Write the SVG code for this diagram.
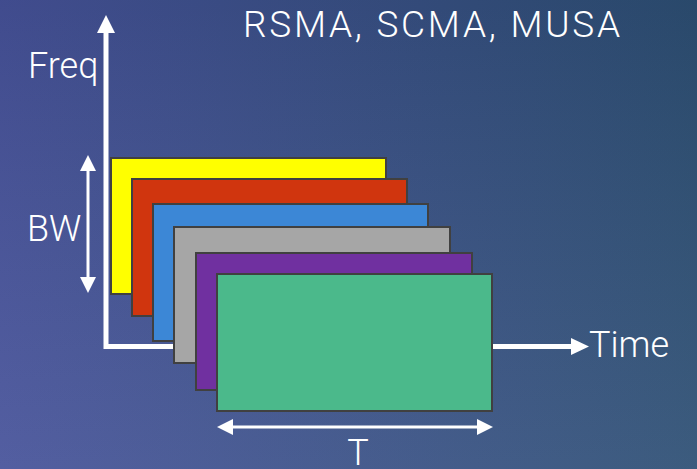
<svg xmlns="http://www.w3.org/2000/svg" width="697" height="469" viewBox="0 0 697 469">
<defs>
<linearGradient id="bg" x1="0" y1="0" x2="1" y2="0">
<stop offset="0" stop-color="#46529a"/>
<stop offset="1" stop-color="#2d4f74"/>
</linearGradient>
<linearGradient id="bgv" x1="0" y1="0" x2="0" y2="1">
<stop offset="0" stop-color="#000000" stop-opacity="0.08"/>
<stop offset="1" stop-color="#ffffff" stop-opacity="0.07"/>
</linearGradient>
<marker id="ahs" viewBox="0 0 16 16" refX="0" refY="8" markerWidth="16" markerHeight="16" markerUnits="userSpaceOnUse" orient="auto-start-reverse">
<path d="M0,0 L16,8 L0,16 Z" fill="#ffffff"/>
</marker>
</defs>
<style>
.lbl{font-family:Roboto,"Liberation Sans",sans-serif;font-weight:300;fill:#ffffff;}
.blk{stroke:#404040;stroke-width:2;}
.ax{stroke:#ffffff;stroke-width:5;fill:none;}
.dim{stroke:#ffffff;stroke-width:3;fill:none;}
</style>
<rect x="0" y="0" width="697" height="469" fill="url(#bg)"/>
<rect x="0" y="0" width="697" height="469" fill="url(#bgv)"/>
<text class="lbl" x="243" y="37" font-size="37" textLength="377" lengthAdjust="spacing">RSMA, SCMA, MUSA</text>
<g id="connectors">
<path class="ax" d="M106,33 L106,346.5 L571,346.5" stroke-linejoin="miter"/>
<path d="M97,33 L106,15 L115,33 Z" fill="#ffffff"/>
<path d="M571,338 L589,346.5 L571,355 Z" fill="#ffffff"/>
<line class="dim" x1="88" y1="171" x2="88" y2="277" marker-start="url(#ahs)" marker-end="url(#ahs)"/>
<line class="dim" x1="233" y1="427" x2="477" y2="427" marker-start="url(#ahs)" marker-end="url(#ahs)"/>
</g>
<g id="yellow"><rect class="blk" x="111" y="158" width="275" height="136" fill="#ffff00"/></g>
<g id="red"><rect class="blk" x="132" y="179" width="275" height="137" fill="#d0350e"/></g>
<g id="blue"><rect class="blk" x="153" y="204" width="275" height="137" fill="#3c87d6"/></g>
<g id="gray"><rect class="blk" x="174" y="227" width="276" height="136" fill="#a6a6a6"/></g>
<g id="purple"><rect class="blk" x="196" y="253" width="276" height="137" fill="#7030a0"/></g>
<g id="green"><rect class="blk" x="217" y="274" width="275" height="137" fill="#4bb98b"/></g>
<text class="lbl" x="28" y="78" font-size="36">Freq</text>
<text class="lbl" x="27" y="241" font-size="36">BW</text>
<text class="lbl" x="589" y="357" font-size="36">Time</text>
<text class="lbl" x="358" y="465" font-size="36" text-anchor="middle">T</text>
</svg>
